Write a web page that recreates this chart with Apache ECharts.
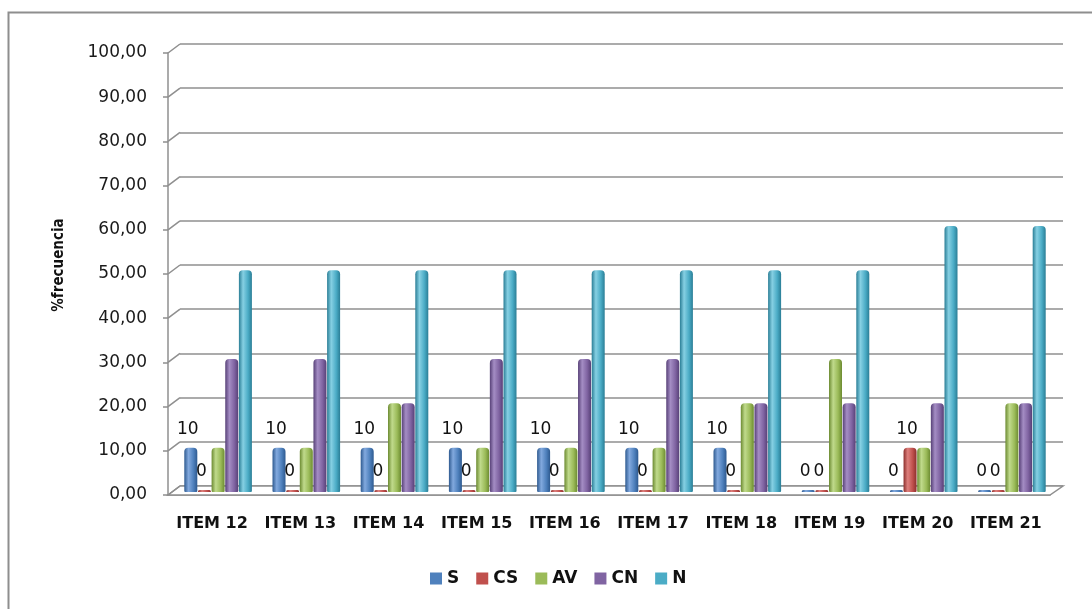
<!DOCTYPE html>
<html>
<head>
<meta charset="utf-8">
<script src="https://cdn.jsdelivr.net/npm/echarts@6/dist/echarts.min.js"></script>
<style>
  html, body { margin: 0; padding: 0; background: #fff; }
  #chart { width: 1092px; height: 609px; }
</style>
</head>
<body>
<div id="chart"></div>
<script>
// Categories and series values (% frequency per item)
const categories = ['ITEM 12', 'ITEM 13', 'ITEM 14', 'ITEM 15', 'ITEM 16',
                    'ITEM 17', 'ITEM 18', 'ITEM 19', 'ITEM 20', 'ITEM 21'];
const seriesNames = ['S', 'CS', 'AV', 'CN', 'N'];
const valuesS  = [10, 10, 10, 10, 10, 10, 10, 0, 0, 0];
const valuesCS = [0, 0, 0, 0, 0, 0, 0, 0, 10, 0];
const valuesAV = [10, 10, 20, 10, 10, 10, 20, 30, 10, 20];
const valuesCN = [30, 30, 20, 30, 30, 30, 20, 20, 20, 20];
const valuesN  = [50, 50, 50, 50, 50, 50, 50, 50, 60, 60];
const yTicks = [0, 10, 20, 30, 40, 50, 60, 70, 80, 90, 100];
const yAxisTitle = '%frecuencia';
// Series that carry value labels
const labelled = ['S', 'CS'];

// Palette: base, shadow edge, highlight for the cylinder shading
const palette = {
  S:  ['#4F81BD', '#2e5a90', '#82a9de'],
  CS: ['#C0504D', '#8c2f2c', '#de807d'],
  AV: ['#9BBB59', '#6c8b31', '#c0da8c'],
  CN: ['#8064A2', '#574077', '#a48dc4'],
  N:  ['#4BACC6', '#2a7e96', '#86d0e3']
};
const allValues = [valuesS, valuesCS, valuesAV, valuesCN, valuesN];

// Depth offset of the back wall relative to the front of the plot
const depthX = 12, depthY = 9;
const gridGray = '#8f8f8f';
const fontMain = '"DejaVu Sans", Verdana, sans-serif';

function cylinder(name) {
  const [base, dark, light] = palette[name];
  return new echarts.graphic.LinearGradient(0, 0, 1, 0, [
    { offset: 0, color: dark },
    { offset: 0.32, color: light },
    { offset: 0.7, color: base },
    { offset: 1, color: dark }
  ]);
}

const chart = echarts.init(document.getElementById('chart'), null, { renderer: 'canvas' });

const barSeries = seriesNames.map((name, i) => ({
  name: name,
  type: 'bar',
  xAxisIndex: 2,
  yAxisIndex: 2,
  data: allValues[i],
  barWidth: 13,
  barGap: '5%',
  barMinHeight: 2,
  z: 3,
  itemStyle: { color: cylinder(name), borderRadius: [4, 4, 1, 1] },
  label: {
    show: labelled.includes(name),
    position: 'top',
    distance: 10,
    offset: [-3, 0],
    color: '#111',
    fontFamily: fontMain,
    fontSize: 17
  }
}));

// Side wall connectors from the front ticks to the back grid lines, plus the floor
const depthSeries = {
  type: 'custom',
  xAxisIndex: 0,
  yAxisIndex: 0,
  z: 1,
  silent: true,
  data: yTicks.map(v => [0, v]),
  encode: { x: 0, y: 1 },
  renderItem: function (params, api) {
    const cs = params.coordSys;
    const y = api.coord([0, api.value(1)])[1];
    const children = [{
      type: 'line',
      shape: { x1: cs.x, y1: y, x2: cs.x + depthX, y2: y - depthY },
      style: { stroke: gridGray, lineWidth: 1.5 }
    }];
    if (api.value(1) === 0) {
      children.unshift({
        type: 'polygon',
        shape: { points: [[cs.x, y], [cs.x + cs.width, y],
                          [cs.x + cs.width + depthX + 1, y - depthY], [cs.x + depthX, y - depthY]] },
        style: { fill: '#ffffff', stroke: gridGray, lineWidth: 1.5 }
      });
    }
    return { type: 'group', children: children };
  }
};

const option = {
  backgroundColor: '#ffffff',
  animation: false,
  graphic: [{
    type: 'rect',
    left: 6, top: 10,
    shape: { width: 1200, height: 700 },
    style: { fill: 'none', stroke: '#8e8e8e', lineWidth: 2 },
    z: 0
  }],
  legend: {
    left: 425,
    top: 565,
    itemWidth: 12,
    itemHeight: 12,
    itemGap: 17,
    icon: 'rect',
    textStyle: { fontFamily: fontMain, fontWeight: 'bold', fontSize: 17, color: '#111' },
    data: seriesNames.map(n => ({ name: n, itemStyle: { color: palette[n][0] } }))
  },
  grid: [
    // front plane: axis line, tick labels, category labels
    { left: 168, top: 53, width: 882, height: 442 },
    // back wall: grid lines and axis title
    { left: 180, top: 44, width: 883, height: 442 },
    // bars sit midway in depth
    { left: 174, top: 48.5, width: 882, height: 443.5 }
  ],
  xAxis: [
    {
      gridIndex: 0, type: 'category', data: categories,
      axisLine: { show: true, lineStyle: { color: gridGray, width: 1.5 } },
      axisTick: { show: false },
      axisLabel: { interval: 0, margin: 21, color: '#111', fontFamily: fontMain, fontWeight: 'bold', fontSize: 16 }
    },
    { gridIndex: 1, type: 'category', data: categories, show: false },
    { gridIndex: 2, type: 'category', data: categories, show: false }
  ],
  yAxis: [
    {
      gridIndex: 0, type: 'value', min: 0, max: 100, interval: 10,
      axisLine: { show: true, lineStyle: { color: gridGray, width: 1.5 } },
      axisTick: { show: true, length: 5, lineStyle: { color: gridGray, width: 1.5 } },
      splitLine: { show: false },
      axisLabel: {
        margin: 21, color: '#1a1a1a', fontFamily: fontMain, fontSize: 17,
        formatter: v => (yTicks.includes(v) ? v.toFixed(2).replace('.', ',') : '')
      }
    },
    {
      gridIndex: 1, type: 'value', min: 0, max: 100, interval: 10,
      name: yAxisTitle,
      nameLocation: 'middle',
      nameGap: 113,
      nameTextStyle: { fontFamily: '"DejaVu Sans Condensed", "DejaVu Sans", sans-serif',
                       fontWeight: 'bold', fontSize: 15, color: '#111' },
      axisLine: { show: false },
      axisTick: { show: false },
      axisLabel: { show: false },
      splitLine: { show: true, lineStyle: { color: gridGray, width: 1.5 } }
    },
    { gridIndex: 2, type: 'value', min: 0, max: 100, show: false, splitLine: { show: false } }
  ],
  series: [depthSeries].concat(barSeries)
};

chart.setOption(option);
</script>
</body>
</html>
